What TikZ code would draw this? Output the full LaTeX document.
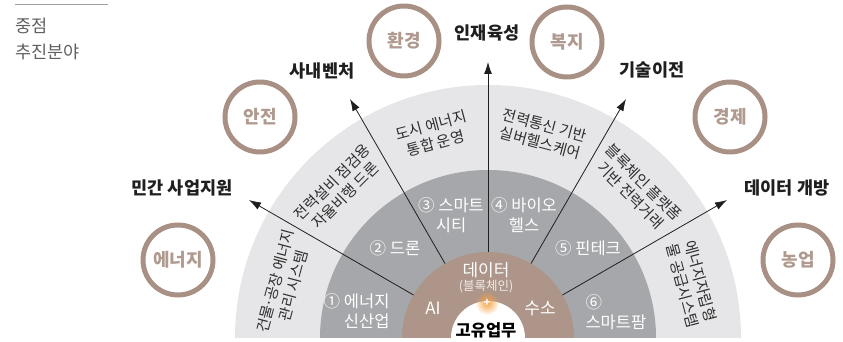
\documentclass[tikz,border=0pt]{standalone}
\usepackage{fontspec}
\setmainfont{Noto Sans CJK KR}
\usetikzlibrary{arrows.meta, positioning, calc, fadings}

\definecolor{ringlight}{HTML}{E6E6E8}
\definecolor{ringdark}{HTML}{A6A7AA}
\definecolor{ringbrown}{HTML}{AD958A}
\definecolor{fieldbrown}{HTML}{A99084}
\definecolor{fieldtext}{HTML}{B09A8F}
\definecolor{titlegray}{HTML}{5F5F5F}
\definecolor{glowcol}{HTML}{F7A445}

\tikzfading[name=glowfade, inner color=transparent!0, outer color=transparent!100]

\begin{document}
\begin{tikzpicture}[
  x=1pt, y=1pt,
  >={Latex[length=12pt,width=8pt]},
  field/.style={draw=fieldbrown, line width=5pt, circle, minimum size=70pt, inner sep=0pt, text=fieldtext, font=\fontsize{18}{20}\selectfont\bfseries},
  goal/.style={font=\fontsize{17.5}{20}\selectfont\bfseries, text=black!88},
  inring/.style={text=white, align=center, font=\fontsize{16.5}{20}\selectfont},
  outring/.style={text=black!82, align=center, font=\fontsize{15}{18.5}\selectfont, inner sep=1pt},
  core/.style={text=white, font=\fontsize{17}{19}\selectfont},
  spoke/.style={draw=black!88, line width=0.8pt, ->}
  ]
  \useasboundingbox (0,0) rectangle (843,342);
  % Title
  \draw[titlegray!60, line width=0.6pt] (15,337.5) -- (108,337.5);
  \node[anchor=north west, inner sep=0pt, align=left, text=titlegray, font=\fontsize{17.5}{26}\selectfont] (title) at (15,324) {중점\\추진분야};

  % Rings
  \coordinate (C) at (488,4);
  \fill[ringlight] ($(C)+(253,0)$) arc[start angle=0, end angle=180, radius=253] -- cycle;
  \fill[ringdark]  ($(C)+(168,0)$) arc[start angle=0, end angle=180, radius=168] -- cycle;
  \fill[ringbrown] ($(C)+(86,0)$)  arc[start angle=0, end angle=180, radius=86] -- cycle;
  \fill[white]     ($(C)+(37,0)$)  arc[start angle=0, end angle=180, radius=37] -- cycle;

  % Spokes
  \foreach \a/\n in {150/civil, 120/venture, 90/talent, 60/tech, 30/data} {
    \coordinate (s-\n) at ($(C)+(\a:86)$);
    \coordinate (t-\n) at ($(C)+(\a:276)$);
    \draw[spoke] (s-\n) -- (t-\n);
  }

  % Goals
  \node[goal] (g-civil)   at (182,154) {민간 사업지원};
  \node[goal] (g-venture) at (322,271) {사내벤처};
  \node[goal] (g-talent)  at (487,309) {인재육성};
  \node[goal] (g-tech)    at (652,272) {기술이전};
  \node[goal] (g-data)    at (787,154) {데이터 개방};

  % Fields
  \node[field] (f-energy)  at (178,82)  {에너지};
  \node[field] (f-safety)  at (260,225) {안전};
  \node[field] (f-env)     at (404,301) {환경};
  \node[field] (f-welfare) at (567,300) {복지};
  \node[field] (f-economy) at (730,225) {경제};
  \node[field] (f-farm)    at (798,82)  {농업};

  % Dark ring
  \node[inring, align=right, anchor=east] (i1) at (393,31) {① 에너지\\신산업};
  \node[inring] (i2) at (395,94)  {② 드론};
  \node[inring] (i3) at (451,127) {③ 스마트\\시티};
  \node[inring] (i4) at (524,127) {④ 바이오\\헬스};
  \node[inring] (i5) at (588,94)  {⑤ 핀테크};
  \node[inring, align=left, anchor=west] (i6) at (582,30) {⑥\\스마트팜};

  % Light ring
  \foreach \a/\t [count=\k] in {165/{건물\kern-.1em·\kern-.1em공장 에너지\\관리 시스템}, 135/{전력설비 점검용\\자율비행 드론},
      105/{도시 에너지\\통합 운영}, 75/{전력통신 기반\\실버헬스케어},
      45/{블록체인 플랫폼\\기반 전력거래}, 15/{에너지자립형\\물 공급시스템}}
    \node[outring, rotate=\a-90] (o\k) at ($(C)+(\a:211)$) {\t};

  % Core
  \node[core] (c-data)  at (486,72) {데이터};
  \node[core, text=white!82!ringbrown, font=\fontsize{12.5}{14}\selectfont] (c-chain) at (486,55) {(블록체인)};
  \node[core] (c-ai)    at (433,34) {AI};
  \node[core] (c-h2)    at (540,34) {수소};
  \coordinate (glow) at (487,39);
  \fill[glowcol, path fading=glowfade] (glow) circle (12pt);
  \node[core, font=\fontsize{11}{11}\selectfont\bfseries, inner sep=0pt] (c-plus) at (glow) {+};
  \node[font=\fontsize{16.5}{18}\selectfont\bfseries, text=black] (c-task) at (486,12) {고유업무};
\end{tikzpicture}
\end{document}
